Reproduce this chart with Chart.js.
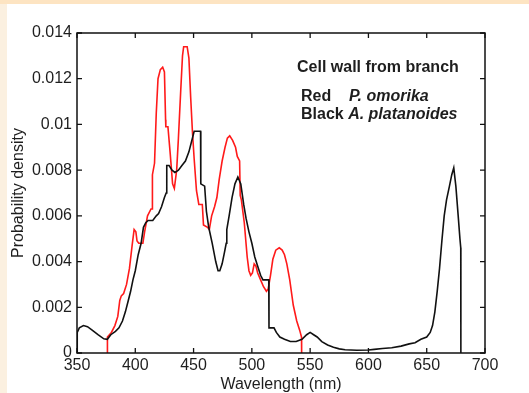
<!DOCTYPE html>
<html><head><meta charset="utf-8">
<script src="https://cdn.jsdelivr.net/npm/chart.js@4.4.0/dist/chart.umd.min.js"></script>
<style>html,body{margin:0;padding:0;background:#fff;overflow:hidden}#wrap{position:relative;width:529px;height:393px}</style>
</head><body><div id="wrap"><canvas id="c" width="529" height="393"></canvas></div>
<script>
const xTicks = [350, 400, 450, 500, 550, 600, 650, 700];
const yTicks = [0, 0.002, 0.004, 0.006, 0.008, 0.01, 0.012, 0.014];
const yTickLabels = ['0', '0.002', '0.004', '0.006', '0.008', '0.01', '0.012', '0.014'];

// Black: A. platanoides
const blackWavelength = [350,350.2,352,355.5,359,363,368,373,376,379,383,386,389,391.5,394,396,398,400,402.5,405,407,409,411,415,418,420,422.5,425,426.5,427,429,431.5,434,437,440,443,446,448.5,450.5,456,456.2,459.5,461,463,466,469,471,472.5,474.5,476.5,478,478.5,480.5,483,485.5,488,490.5,493,495,497.5,500,502.5,505,507.5,509.5,514.5,514.7,519,521,524,528,533,538,543,547,550,553,556,560,565,570,575,580,590,600,605,612,620,628,635,640,645,650,653,655,657,659,661,663,665,667,669.5,671.5,673.2,675,677,678.5,679.2,679.3];
const blackDensity = [0,0.0009,0.0011,0.0012,0.00115,0.001,0.0008,0.00062,0.0006,0.0008,0.00095,0.0011,0.0014,0.0018,0.0023,0.0027,0.0032,0.0036,0.0043,0.0048,0.0055,0.0057,0.0058,0.0058,0.006,0.0061,0.0064,0.0068,0.007,0.0082,0.0082,0.008,0.0079,0.008,0.0082,0.0084,0.0088,0.0093,0.0097,0.0097,0.0074,0.0073,0.0062,0.0055,0.0048,0.004,0.0036,0.0036,0.0039,0.0044,0.0048,0.0054,0.006,0.0068,0.0074,0.0077,0.0074,0.0065,0.0059,0.0053,0.0048,0.0042,0.0038,0.0034,0.0032,0.0032,0.0011,0.0011,0.0009,0.0007,0.0006,0.0005,0.0005,0.0006,0.0008,0.0009,0.0008,0.0007,0.0005,0.00035,0.00025,0.00018,0.00014,0.00012,0.00013,0.00016,0.0002,0.00023,0.0003,0.0004,0.00045,0.0006,0.0007,0.0009,0.0012,0.0018,0.0027,0.0037,0.0049,0.006,0.0067,0.0073,0.0078,0.0081,0.0073,0.006,0.005,0.0046,0];

// Red: P. omorika
const redWavelength = [376,376.1,379.5,382.5,385,386.7,388,390,392.5,395,397.5,399,400.5,401.5,403,406.5,408,410.5,413.5,414.5,414.7,416.5,418,419.5,421.5,423.5,425,426,426.2,428,430,432,433.5,435.5,437,439,440.5,441.5,444.5,446,447.5,449,450.5,452.5,454.5,457.5,458.5,462,463.5,465.5,468,470,472,474.5,477,479,481,483.5,486,487.5,489.5,490,491,493.5,496,497.5,499,500.5,502,503.5,505,507.5,510,512.5,514,516,518,520.5,523.5,526,528,530,532.5,535.5,538.5,541,542.6,542.7];
const redDensity = [0,0.0007,0.0009,0.0012,0.0016,0.0023,0.0025,0.0026,0.003,0.0037,0.0048,0.0054,0.0053,0.0049,0.0048,0.0048,0.0053,0.006,0.0063,0.0063,0.0078,0.0083,0.0105,0.012,0.0124,0.0125,0.0123,0.0102,0.0099,0.0099,0.0087,0.0074,0.0072,0.008,0.0094,0.0115,0.013,0.0134,0.0134,0.0129,0.0112,0.0097,0.0085,0.0071,0.0065,0.0065,0.0056,0.0055,0.0054,0.006,0.0064,0.0068,0.0076,0.0084,0.009,0.0094,0.0095,0.0093,0.009,0.0086,0.0084,0.0069,0.0067,0.0057,0.0042,0.0036,0.0034,0.0035,0.0039,0.0038,0.0035,0.0032,0.0029,0.0027,0.0028,0.0034,0.0041,0.0045,0.0046,0.0045,0.0043,0.0039,0.0032,0.0021,0.0014,0.001,0.0007,0];

const noteTitle = 'Cell wall from branch';
const noteColours = ['Red', 'Black'];
const noteSpecies = ['P. omorika', 'A. platanoides'];

const FONT = "'Liberation Sans', Arial, sans-serif";
const TXT = '#1e1e1e';

const toPoints = (xs, ys) => xs.map((x, i) => ({x: x, y: ys[i]}));

const backgroundPlugin = {
  id: 'bg',
  beforeDraw(chart) {
    const c = chart.ctx;
    c.save();
    c.fillStyle = '#fbf0e0';
    c.fillRect(0, 0, chart.width, chart.height);
    c.fillStyle = '#fde4c2';
    c.fillRect(0, 0, chart.width, 4);
    c.fillStyle = '#ffffff';
    c.fillRect(7, 4, chart.width - 7, chart.height - 4);
    c.restore();
  }
};

const framePlugin = {
  id: 'frame',
  afterDatasetsDraw(chart) {
    const c = chart.ctx, a = chart.chartArea;
    const xs = chart.scales.x, ys = chart.scales.y;
    c.save();
    c.strokeStyle = '#111';
    c.lineWidth = 1.5;
    c.strokeRect(a.left, a.top, a.right - a.left, a.bottom - a.top);
    c.lineWidth = 1.3;
    const tl = 5;
    c.beginPath();
    xTicks.forEach(v => {
      const px = xs.getPixelForValue(v);
      c.moveTo(px, a.bottom); c.lineTo(px, a.bottom - tl);
      c.moveTo(px, a.top); c.lineTo(px, a.top + tl);
    });
    yTicks.forEach(v => {
      const py = ys.getPixelForValue(v);
      c.moveTo(a.left, py); c.lineTo(a.left + tl, py);
      c.moveTo(a.right, py); c.lineTo(a.right - tl, py);
    });
    c.stroke();
    // annotation text
    c.fillStyle = TXT;
    c.textBaseline = 'middle';
    c.textAlign = 'left';
    c.font = 'bold 16px ' + FONT;
    c.fillText(noteTitle, 297, 68);
    c.fillText(noteColours[0], 301, 97);
    c.fillText(noteColours[1], 301, 115);
    const wBlack = c.measureText(noteColours[1] + ' ').width;
    c.font = 'italic bold 16px ' + FONT;
    c.fillText(noteSpecies[0], 349, 97);
    c.fillText(noteSpecies[1], 301 + wBlack, 115);
    c.restore();
  }
};

new Chart(document.getElementById('c'), {
  type: 'line',
  data: {
    datasets: [
      {label: 'A. platanoides', data: toPoints(blackWavelength, blackDensity), borderColor: '#111111', borderWidth: 1.6, pointRadius: 0, tension: 0, fill: false},
      {label: 'P. omorika', data: toPoints(redWavelength, redDensity), borderColor: '#ff1a1a', borderWidth: 1.6, pointRadius: 0, tension: 0, fill: false}
    ]
  },
  options: {
    responsive: false,
    animation: false,
    devicePixelRatio: 1,
    layout: {padding: {top: 33, right: 44, left: 0, bottom: 0}},
    plugins: {legend: {display: false}, tooltip: {enabled: false}},
    scales: {
      x: {
        type: 'linear', min: 350, max: 700, position: 'bottom',
        afterBuildTicks: s => { s.ticks = xTicks.map(v => ({value: v})); },
        afterFit: s => { s.height = 40; },
        grid: {display: false, drawTicks: false},
        border: {display: false},
        ticks: {font: {family: FONT, size: 16}, color: TXT, padding: 3, maxRotation: 0, autoSkip: false},
        title: {display: true, text: 'Wavelength (nm)', color: TXT, font: {family: FONT, size: 16, lineHeight: 1}, padding: {top: 0, bottom: 0}}
      },
      y: {
        type: 'linear', min: 0, max: 0.014, position: 'left',
        afterBuildTicks: s => { s.ticks = yTicks.map(v => ({value: v})); },
        afterFit: s => { s.width = 77; },
        grid: {display: false, drawTicks: false},
        border: {display: false},
        ticks: {font: {family: FONT, size: 16}, color: TXT, padding: 5, autoSkip: false,
          callback: (v) => { const i = yTicks.findIndex(t => Math.abs(t - v) < 1e-9); return i >= 0 ? yTickLabels[i] : ''; }},
        title: {display: true, text: 'Probability density', color: TXT, font: {family: FONT, size: 16, lineHeight: 1}, padding: {top: 11, bottom: 0}}
      }
    }
  },
  plugins: [backgroundPlugin, framePlugin]
});
</script></body></html>
